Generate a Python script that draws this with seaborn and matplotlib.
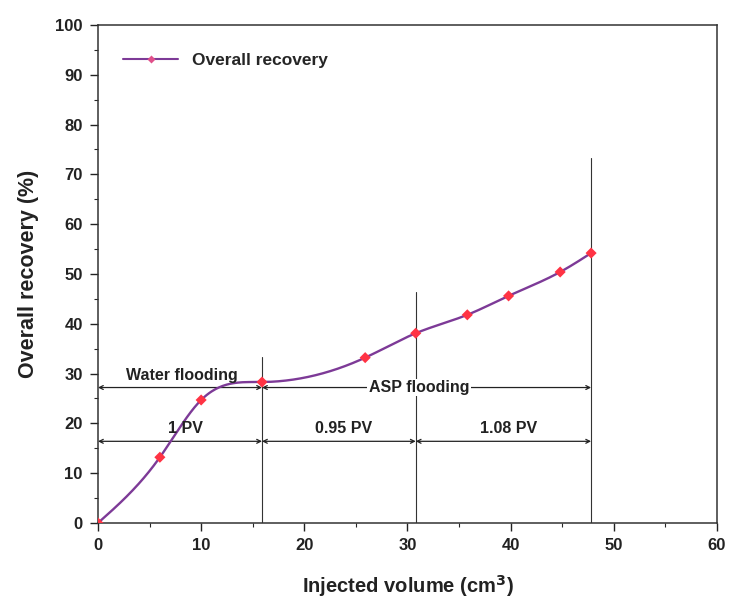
import numpy as np
import pandas as pd
import matplotlib
matplotlib.use("Agg")
import matplotlib.pyplot as plt
from matplotlib.lines import Line2D
import seaborn as sns

# Injected volume (cm3) and overall recovery (%)
injected_volume = [0.0, 6.0, 10.0, 15.9, 25.9, 30.8, 35.8, 39.8, 44.8, 47.8]
overall_recovery = [0.0, 13.2, 24.7, 28.3, 33.2, 38.1, 41.8, 45.6, 50.4, 54.2]

# Flooding stage boundaries (cm3) and the height of each boundary line (%)
stage_bounds = [15.9, 30.8, 47.8]
bound_tops = [33.4, 46.4, 73.3]

# Stage brackets
flood_level = 27.2
pv_level = 16.4
pv_labels = ["1 PV", "0.95 PV", "1.08 PV"]

x_ticks = [0, 10, 20, 30, 40, 50, 60]
y_ticks = [0, 10, 20, 30, 40, 50, 60, 70, 80, 90, 100]


def natural_spline(x, y, n=400):
    """Natural cubic spline through (x, y), evaluated on a dense grid."""
    x = np.asarray(x, float)
    y = np.asarray(y, float)
    m = len(x)
    h = np.diff(x)
    A = np.zeros((m, m))
    b = np.zeros(m)
    A[0, 0] = A[-1, -1] = 1.0
    for i in range(1, m - 1):
        A[i, i - 1] = h[i - 1]
        A[i, i] = 2 * (h[i - 1] + h[i])
        A[i, i + 1] = h[i]
        b[i] = 3 * ((y[i + 1] - y[i]) / h[i] - (y[i] - y[i - 1]) / h[i - 1])
    c = np.linalg.solve(A, b)
    xs = np.linspace(x[0], x[-1], n)
    idx = np.clip(np.searchsorted(x, xs) - 1, 0, m - 2)
    dx = xs - x[idx]
    bb = (y[idx + 1] - y[idx]) / h[idx] - h[idx] * (2 * c[idx] + c[idx + 1]) / 3
    dd = (c[idx + 1] - c[idx]) / (3 * h[idx])
    ys = y[idx] + bb * dx + c[idx] * dx ** 2 + dd * dx ** 3
    return xs, ys


sns.set_theme(style="ticks")
plt.rcParams["font.family"] = ["Liberation Sans", "DejaVu Sans"]
plt.rcParams["font.weight"] = "bold"

fig = plt.figure(figsize=(7.29, 5.99), dpi=100)
ax = fig.add_axes([0.1344, 0.1269, 0.8491, 0.8314])

line_color = "#7d3a97"
marker_color = "#ff3344"
text_color = "#222222"

xs, ys = natural_spline(injected_volume, overall_recovery)
curve = pd.DataFrame({"x": xs, "y": ys})
pts = pd.DataFrame({"x": injected_volume, "y": overall_recovery})

sns.lineplot(data=curve, x="x", y="y", ax=ax, color=line_color, lw=1.7, zorder=4)
sns.scatterplot(data=pts, x="x", y="y", ax=ax, color=marker_color, marker="D",
                s=32, edgecolor="none", zorder=5)

# Stage boundaries
for xb, top in zip(stage_bounds, bound_tops):
    ax.plot([xb, xb], [0, top], color="#333333", lw=0.8, zorder=3)

arrow_kw = dict(arrowstyle="<->", color=text_color, lw=0.9,
                shrinkA=0, shrinkB=0, mutation_scale=7)

# Water flooding / ASP flooding brackets
ax.annotate("", xy=(0, flood_level), xytext=(stage_bounds[0], flood_level),
            arrowprops=arrow_kw, zorder=3)
ax.annotate("", xy=(stage_bounds[0], flood_level), xytext=(stage_bounds[2], flood_level),
            arrowprops=arrow_kw, zorder=3)
ax.text(8.1, flood_level + 0.9, "Water flooding", ha="center", va="bottom",
        fontsize=11.5, fontweight="bold", color=text_color, zorder=6)
ax.text(31.1, flood_level, "ASP flooding", ha="center", va="center",
        fontsize=11.5, fontweight="bold", color=text_color, zorder=6,
        bbox=dict(facecolor="white", edgecolor="none", pad=1.0))

# Pore volume brackets
pv_edges = [0] + stage_bounds
for i, lab in enumerate(pv_labels):
    x0, x1 = pv_edges[i], pv_edges[i + 1]
    ax.annotate("", xy=(x0, pv_level), xytext=(x1, pv_level),
                arrowprops=arrow_kw, zorder=3)
    ax.text((x0 + x1) / 2 + 0.5, pv_level + 1.1, lab, ha="center", va="bottom",
            fontsize=11.5, fontweight="bold", color=text_color, zorder=6)

ax.set_xlim(0, 60)
ax.set_ylim(0, 100)
ax.set_xticks(x_ticks)
ax.set_yticks(y_ticks)
ax.set_xticks(np.arange(5, 60, 10), minor=True)
ax.set_yticks(np.arange(5, 100, 10), minor=True)
ax.tick_params(axis="both", which="major", direction="out", length=6, width=1,
               labelsize=12, colors=text_color, pad=5)
ax.tick_params(axis="both", which="minor", direction="out", length=3, width=0.8)
for lbl in ax.get_xticklabels() + ax.get_yticklabels():
    lbl.set_fontweight("bold")

for sp in ax.spines.values():
    sp.set_visible(True)
    sp.set_color("#333333")
    sp.set_linewidth(1.1)

ax.set_xlabel("Injected volume (cm$^\\mathbf{3}$)", fontsize=14.5, fontweight="bold",
              labelpad=14, color=text_color)
ax.set_ylabel("Overall recovery (%)", fontsize=15.5, fontweight="bold", labelpad=12,
              color=text_color)

handle = Line2D([], [], color=line_color, lw=1.5, marker="D", markersize=4,
                markerfacecolor="#e0508a", markeredgecolor="none")
ax.legend([handle], ["Overall recovery"], loc="upper left", frameon=False,
          bbox_to_anchor=(0.015, 0.975), prop=dict(size=12.5, weight="bold"),
          handlelength=3.2)

fig.savefig("out.png", dpi=100)
